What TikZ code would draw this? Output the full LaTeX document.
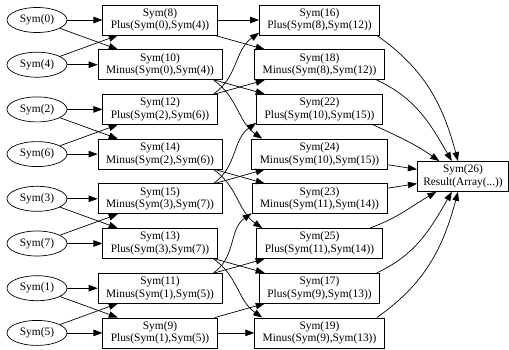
\documentclass[tikz,border=0pt]{standalone}
\usepackage{fontspec}
\setmainfont{Liberation Serif}
\usetikzlibrary{positioning,shapes.geometric,arrows.meta}
\tikzset{
  sym/.style={draw,ellipse,minimum width=60pt,minimum height=25pt,inner sep=0pt},
  op/.style={draw,rectangle,align=center,minimum height=30pt,inner xsep=8pt,inner ysep=2pt},
}

\begin{document}
\begin{tikzpicture}[on grid,line width=0.7pt,
    font=\fontsize{11.4}{12.5}\selectfont,
    >={Triangle[length=9pt,width=6.5pt]}]
  \useasboundingbox (0,0) rectangle (509pt,-349pt);
  % inputs
  \node[sym] (s0) at (37pt,-20pt) {Sym(0)};
  \node[sym, below=44.7pt of s0] (s4) {Sym(4)};
  \node[sym, below=44.7pt of s4] (s2) {Sym(2)};
  \node[sym, below=44.7pt of s2] (s6) {Sym(6)};
  \node[sym, below=44.7pt of s6] (s3) {Sym(3)};
  \node[sym, below=44.7pt of s3] (s7) {Sym(7)};
  \node[sym, below=44.7pt of s7] (s1) {Sym(1)};
  \node[sym, below=44.7pt of s1] (s5) {Sym(5)};
  % first stage
  \node[op, right=123pt of s0] (s8) {Sym(8)\\Plus(Sym(0),Sym(4))};
  \node[op, right=123pt of s4] (s10) {Sym(10)\\Minus(Sym(0),Sym(4))};
  \node[op, right=123pt of s2] (s12) {Sym(12)\\Plus(Sym(2),Sym(6))};
  \node[op, right=123pt of s6] (s14) {Sym(14)\\Minus(Sym(2),Sym(6))};
  \node[op, right=123pt of s3] (s15) {Sym(15)\\Minus(Sym(3),Sym(7))};
  \node[op, right=123pt of s7] (s13) {Sym(13)\\Plus(Sym(3),Sym(7))};
  \node[op, right=123pt of s1] (s11) {Sym(11)\\Minus(Sym(1),Sym(5))};
  \node[op, right=123pt of s5] (s9) {Sym(9)\\Plus(Sym(1),Sym(5))};
  % second stage
  \node[op, right=159.5pt of s8] (s16) {Sym(16)\\Plus(Sym(8),Sym(12))};
  \node[op, right=159.5pt of s10] (s18) {Sym(18)\\Minus(Sym(8),Sym(12))};
  \node[op, right=159.5pt of s12] (s22) {Sym(22)\\Plus(Sym(10),Sym(15))};
  \node[op, right=159.5pt of s14] (s24) {Sym(24)\\Minus(Sym(10),Sym(15))};
  \node[op, right=159.5pt of s15] (s23) {Sym(23)\\Minus(Sym(11),Sym(14))};
  \node[op, right=159.5pt of s13] (s25) {Sym(25)\\Plus(Sym(11),Sym(14))};
  \node[op, right=159.5pt of s11] (s17) {Sym(17)\\Plus(Sym(9),Sym(13))};
  \node[op, right=159.5pt of s9] (s19) {Sym(19)\\Minus(Sym(9),Sym(13))};
  % result
  \node[op, inner xsep=6pt, below right=22.35pt and 143.5pt of s24] (s26) {Sym(26)\\Result(Array(...))};

  \draw[->] (s0) -- (s8);
  \draw[->] (s0) -- (s10);
  \draw[->] (s4) -- (s8);
  \draw[->] (s4) -- (s10);
  \draw[->] (s2) -- (s12);
  \draw[->] (s2) -- (s14);
  \draw[->] (s6) -- (s12);
  \draw[->] (s6) -- (s14);
  \draw[->] (s3) -- (s15);
  \draw[->] (s3) -- (s13);
  \draw[->] (s7) -- (s15);
  \draw[->] (s7) -- (s13);
  \draw[->] (s1) -- (s11);
  \draw[->] (s1) -- (s9);
  \draw[->] (s5) -- (s11);
  \draw[->] (s5) -- (s9);

  \draw[->] (s8) -- (s16);
  \draw[->] (s8) -- (s18);
  \draw[->] (s12.16) to[out=35,in=215] (s16.192);
  \draw[->] (s12) -- (s18);
  \draw[->] (s10) -- (s22);
  \draw[->] (s10.-16) to[out=-35,in=145] (s24.165);
  \draw[->] (s15.16) to[out=35,in=215] (s22.192);
  \draw[->] (s15) -- (s24);
  \draw[->] (s14) -- (s23);
  \draw[->] (s14.-16) to[out=-35,in=145] (s25.165);
  \draw[->] (s11.16) to[out=35,in=215] (s23.192);
  \draw[->] (s11) -- (s25);
  \draw[->] (s13) -- (s17);
  \draw[->] (s13.-16) to[out=-35,in=145] (s19.165);
  \draw[->] (s9) -- (s17);
  \draw[->] (s9) -- (s19);

  \draw[->] (s16.-15) to[out=-35,in=105] (s26.108);
  \draw[->] (s18.-15) to[out=-25,in=120] (s26.126);
  \draw[->] (s22.-16) to[out=-25,in=145] (s26.147);
  \draw[->] (s24) -- (s26);
  \draw[->] (s23) -- (s26);
  \draw[->] (s25.17) to[out=20,in=210] (s26.210);
  \draw[->] (s17.15) to[out=25,in=240] (s26.234);
  \draw[->] (s19.15) to[out=35,in=255] (s26.252);
\end{tikzpicture}
\end{document}
